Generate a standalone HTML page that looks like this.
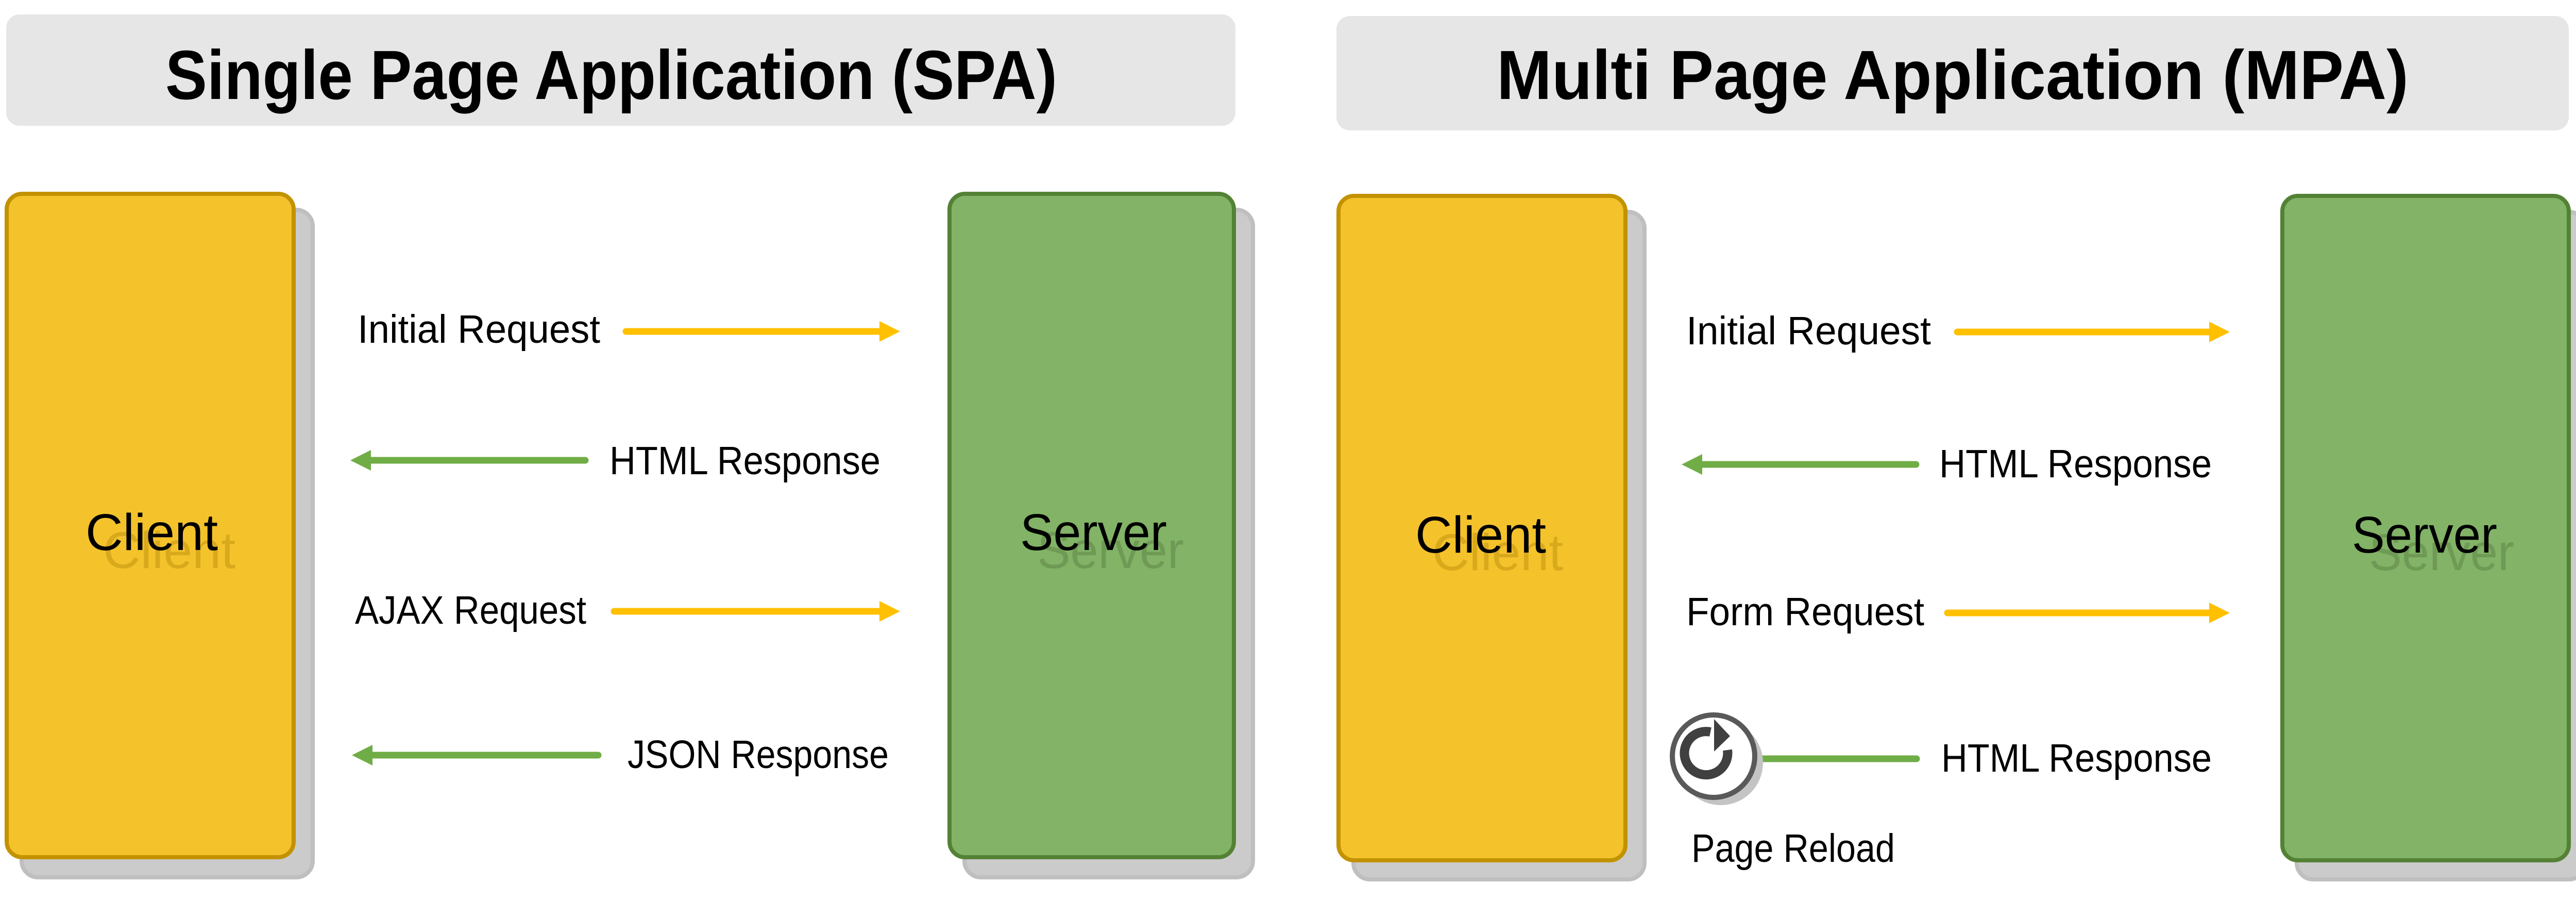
<!DOCTYPE html>
<html><head><meta charset="utf-8"><style>
html,body{margin:0;padding:0;background:#fff;}
svg{display:block;}
text{font-family:"Liberation Sans",sans-serif;}
</style></head><body>
<svg width="5027" height="1746" viewBox="0 0 5027 1746" xmlns="http://www.w3.org/2000/svg">
<!-- Title boxes -->
<rect x="12" y="28" width="2386" height="216" rx="26" fill="#e6e6e6"/>
<text x="321" y="192" font-size="135" font-weight="bold" textLength="1731" lengthAdjust="spacingAndGlyphs">Single Page Application (SPA)</text>
<rect x="2594" y="31" width="2392" height="222" rx="26" fill="#e6e6e6"/>
<text x="2905" y="192" font-size="135" font-weight="bold" textLength="1770" lengthAdjust="spacingAndGlyphs">Multi Page Application (MPA)</text>

<!-- SPA boxes -->
<rect x="42" y="407" width="565" height="1295" rx="32" fill="#cbcbcb" stroke="#bfbfbf" stroke-width="8"/>
<rect x="13" y="376" width="557" height="1287" rx="30" fill="#f4c22b" stroke="#c29200" stroke-width="8"/>
<text x="200" y="1102" font-size="100" fill="#d9a91c" textLength="257" lengthAdjust="spacingAndGlyphs">Client</text>
<text x="166" y="1067" font-size="100" fill="#000" textLength="257" lengthAdjust="spacingAndGlyphs">Client</text>

<rect x="1872" y="407" width="560" height="1295" rx="32" fill="#cbcbcb" stroke="#bfbfbf" stroke-width="8"/>
<rect x="1843" y="376" width="552" height="1287" rx="30" fill="#82b366" stroke="#548235" stroke-width="8"/>
<text x="2013" y="1102" font-size="100" fill="#6e9a55" textLength="285" lengthAdjust="spacingAndGlyphs">Server</text>
<text x="1980" y="1067" font-size="100" fill="#000" textLength="285" lengthAdjust="spacingAndGlyphs">Server</text>

<!-- MPA boxes -->
<rect x="2627" y="411" width="565" height="1295" rx="32" fill="#cbcbcb" stroke="#bfbfbf" stroke-width="8"/>
<rect x="2598" y="380" width="557" height="1289" rx="30" fill="#f4c22b" stroke="#c29200" stroke-width="8"/>
<text x="2780" y="1106" font-size="100" fill="#d9a91c" textLength="254" lengthAdjust="spacingAndGlyphs">Client</text>
<text x="2747" y="1072" font-size="100" fill="#000" textLength="254" lengthAdjust="spacingAndGlyphs">Client</text>

<rect x="4458" y="411" width="560" height="1295" rx="32" fill="#cbcbcb" stroke="#bfbfbf" stroke-width="8"/>
<rect x="4430" y="380" width="556" height="1289" rx="30" fill="#82b366" stroke="#548235" stroke-width="8"/>
<text x="4598" y="1106" font-size="100" fill="#6e9a55" textLength="282" lengthAdjust="spacingAndGlyphs">Server</text>
<text x="4565" y="1072" font-size="100" fill="#000" textLength="282" lengthAdjust="spacingAndGlyphs">Server</text>

<!-- SPA arrows -->
<g stroke-width="13" stroke-linecap="round" fill="none">
<line x1="1215" y1="643" x2="1712" y2="643" stroke="#ffc000"/>
<line x1="720" y1="893" x2="1136" y2="893" stroke="#70ad47"/>
<line x1="1192" y1="1186" x2="1712" y2="1186" stroke="#ffc000"/>
<line x1="722" y1="1465" x2="1161" y2="1465" stroke="#70ad47"/>
<line x1="3799" y1="644" x2="4293" y2="644" stroke="#ffc000"/>
<line x1="3304" y1="901" x2="3719" y2="901" stroke="#70ad47"/>
<line x1="3780" y1="1189" x2="4293" y2="1189" stroke="#ffc000"/>
<line x1="3405" y1="1472" x2="3720" y2="1472" stroke="#70ad47"/>
</g>
<polygon points="1747,643 1707,623 1707,663" fill="#ffc000"/>
<polygon points="680,893 720,873 720,913" fill="#70ad47"/>
<polygon points="1747,1186 1707,1166 1707,1206" fill="#ffc000"/>
<polygon points="683,1465 723,1445 723,1485" fill="#70ad47"/>
<polygon points="4328,644 4288,624 4288,664" fill="#ffc000"/>
<polygon points="3264,901 3304,881 3304,921" fill="#70ad47"/>
<polygon points="4328,1189 4288,1169 4288,1209" fill="#ffc000"/>

<!-- labels -->
<g font-size="77" fill="#000">
<text x="694" y="665" textLength="471" lengthAdjust="spacingAndGlyphs">Initial Request</text>
<text x="1183" y="920" textLength="526" lengthAdjust="spacingAndGlyphs">HTML Response</text>
<text x="689" y="1210" textLength="449" lengthAdjust="spacingAndGlyphs">AJAX Request</text>
<text x="1218" y="1490" textLength="507" lengthAdjust="spacingAndGlyphs">JSON Response</text>
<text x="3273" y="668" textLength="475" lengthAdjust="spacingAndGlyphs">Initial Request</text>
<text x="3764" y="926" textLength="529" lengthAdjust="spacingAndGlyphs">HTML Response</text>
<text x="3273" y="1213" textLength="462" lengthAdjust="spacingAndGlyphs">Form Request</text>
<text x="3768" y="1497" textLength="525" lengthAdjust="spacingAndGlyphs">HTML Response</text>
<text x="3283" y="1672" textLength="395" lengthAdjust="spacingAndGlyphs">Page Reload</text>
</g>

<!-- reload icon -->
<circle cx="3340" cy="1480" r="82" fill="#c4c4c4"/>
<circle cx="3326" cy="1467" r="80" fill="#fff" stroke="#595959" stroke-width="10"/>
<path d="M3353 1455 A42 42 0 1 1 3320 1420" fill="none" stroke="#404040" stroke-width="18"/>
<polygon points="3327,1395 3358,1428 3327,1458" fill="#404040"/>
</svg>
</body></html>
